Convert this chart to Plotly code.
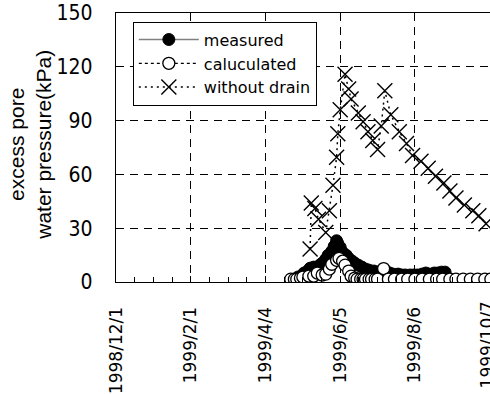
import plotly.graph_objects as go

# ---- data ----
measured_dates = ["1999-05-01", "1999-05-04", "1999-05-06", "1999-05-09", "1999-05-11", "1999-05-14",
                  "1999-05-16", "1999-05-19", "1999-05-21", "1999-05-24", "1999-05-26", "1999-05-29",
                  "1999-05-31", "1999-06-02", "1999-06-03", "1999-06-05", "1999-06-07", "1999-06-10",
                  "1999-06-12", "1999-06-15", "1999-06-17", "1999-06-20", "1999-06-23", "1999-06-26",
                  "1999-06-29", "1999-07-03", "1999-07-06", "1999-07-09", "1999-07-13", "1999-07-16",
                  "1999-07-19", "1999-07-23", "1999-07-26", "1999-07-29", "1999-08-02", "1999-08-05",
                  "1999-08-08", "1999-08-12", "1999-08-15", "1999-08-18", "1999-08-22", "1999-08-25",
                  "1999-08-28", "1999-08-31"]
measured_kpa = [2.8, 3.3, 5.0, 6.1, 7.7, 8.3,
                7.2, 9.4, 10.5, 12.7, 14.9, 17.1,
                19.9, 23.0, 21.5, 19.3, 16.5, 14.9,
                13.2, 11.6, 10.5, 9.4, 8.3, 7.2,
                6.6, 6.1, 5.5, 6.1, 6.1, 5.0,
                4.4, 4.4, 3.9, 3.9, 3.9, 3.9,
                3.9, 4.4, 5.0, 4.4, 5.0, 5.0,
                5.5, 5.5]

calc_dates = ["1999-04-25", "1999-04-28", "1999-04-30", "1999-05-03", "1999-05-05", "1999-05-10",
              "1999-05-14", "1999-05-17", "1999-05-21", "1999-05-24", "1999-05-27", "1999-05-29",
              "1999-06-02", "1999-06-04", "1999-06-07", "1999-06-09", "1999-06-12", "1999-06-14",
              "1999-06-17", "1999-06-19", "1999-06-22", "1999-06-24", "1999-06-26", "1999-06-29",
              "1999-07-01", "1999-07-04", "1999-07-06", "1999-07-11", "1999-07-15", "1999-07-20",
              "1999-07-26", "1999-07-31", "1999-08-06", "1999-08-12", "1999-08-18", "1999-08-24",
              "1999-08-29", "1999-09-04", "1999-09-09", "1999-09-15", "1999-09-21", "1999-09-27",
              "1999-10-03", "1999-10-08"]
calc_kpa = [1.6, 1.6, 1.6, 2.2, 2.8, 3.3,
            3.3, 5.0, 3.9, 4.4, 7.2, 9.9,
            12.1, 13.2, 11.6, 9.4, 6.1, 3.3,
            2.2, 1.6, 1.6, 1.6, 1.6, 1.6,
            1.6, 1.6, 1.6, 7.5, 1.6, 1.6,
            1.6, 1.6, 1.6, 1.6, 1.6, 1.6,
            1.6, 1.6, 1.6, 1.6, 1.6, 1.6,
            1.6, 1.6]

nodrain_dates = ["1999-05-11", "1999-05-12", "1999-05-15", "1999-05-18", "1999-05-24", "1999-05-27",
                 "1999-05-30", "1999-06-02", "1999-06-03", "1999-06-05", "1999-06-09", "1999-06-12",
                 "1999-06-14", "1999-06-20", "1999-06-24", "1999-06-28", "1999-07-02", "1999-07-06",
                 "1999-07-09", "1999-07-12", "1999-07-17", "1999-07-24", "1999-07-30", "1999-08-04",
                 "1999-08-11", "1999-08-17", "1999-08-23", "1999-08-30", "1999-09-04", "1999-09-09",
                 "1999-09-16", "1999-09-23", "1999-09-28", "1999-10-04"]
nodrain_kpa = [18.4, 44.0, 41.0, 35.0, 27.6, 39.7,
               54.0, 69.5, 82.7, 96.0, 115.8, 107.6,
               102.0, 94.3, 89.4, 83.8, 78.9, 73.9,
               87.0, 106.6, 93.2, 83.8, 77.2, 70.6,
               67.3, 63.4, 59.0, 55.2, 50.7, 46.9,
               43.0, 39.7, 37.0, 32.5]

tick_dates = ["1998-12-01", "1999-02-01", "1999-04-04", "1999-06-05", "1999-08-06", "1999-10-07"]
tick_text = ["1998/12/1", "1999/2/1", "1999/4/4", "1999/6/5", "1999/8/6", "1999/10/7"]
y_ticks = [0, 30, 60, 90, 120, 150]

legend_names = ["measured", "caluculated", "without drain"]
y_title = "excess pore<br>water pressure(kPa)"

tick_font = dict(family="DejaVu Sans", size=17, color="black")

# ---- figure ----
fig = go.Figure()

fig.add_trace(go.Scatter(
    x=measured_dates, y=measured_kpa, name=legend_names[0], mode="lines+markers",
    line=dict(color="#808080", width=1.5),
    marker=dict(symbol="circle", size=12, color="black", line=dict(color="black", width=1)),
    cliponaxis=True))

fig.add_trace(go.Scatter(
    x=calc_dates, y=calc_kpa, name=legend_names[1], mode="lines+markers",
    line=dict(color="black", width=1.3, dash="3px,3px"),
    marker=dict(symbol="circle", size=12, color="white", line=dict(color="black", width=1.3)),
    cliponaxis=True))

fig.add_trace(go.Scatter(
    x=nodrain_dates, y=nodrain_kpa, name=legend_names[2], mode="lines+markers",
    line=dict(color="black", width=1.5, dash="2px,4px"),
    marker=dict(symbol="x-thin-open", size=15, color="black", line=dict(color="black", width=1.4)),
    cliponaxis=True))

grid_dash = "8px,6px"

# the last tick sits at the right edge and is drawn as an annotation so it is not dropped
visible_ticks = tick_dates[:-1]
visible_text = tick_text[:-1]

fig.update_layout(
    width=490, height=394,
    margin=dict(l=116, r=0, t=13, b=109),
    paper_bgcolor="white", plot_bgcolor="white",
    showlegend=True,
    legend=dict(
        x=0.045, y=0.968, xanchor="left", yanchor="top",
        bgcolor="white", bordercolor="black", borderwidth=1,
        font=dict(family="DejaVu Sans", size=16, color="black"),
        itemwidth=60, tracegroupgap=0,
    ),
    xaxis=dict(
        type="date",
        range=["1998-12-01", "1999-10-07 06:00"],
        tickmode="array", tickvals=visible_ticks, ticktext=visible_text,
        tickangle=-90,
        tickfont=tick_font,
        ticks="inside", ticklen=6, tickcolor="black", tickwidth=1,
        ticklabelstandoff=17,
        showline=True, linecolor="black", linewidth=1.3, mirror=True,
        showgrid=True, gridcolor="black", gridwidth=1, griddash=grid_dash,
        minor=dict(ticks="inside", ticklen=5, tickcolor="black", tickwidth=1,
                   dtick=15.5 * 86400000, tick0="1998-12-01", showgrid=False),
        zeroline=False,
    ),
    yaxis=dict(
        range=[0, 150],
        tickmode="array", tickvals=y_ticks,
        tickfont=dict(family="Liberation Sans Narrow, DejaVu Sans Condensed, sans-serif", size=21, color="black"),
        ticks="inside", ticklen=6, tickcolor="black", tickwidth=1,
        ticklabelstandoff=18,
        showline=True, linecolor="black", linewidth=1.3, mirror=False,
        showgrid=True, gridcolor="black", gridwidth=1, griddash=grid_dash,
        zeroline=False,
    ),
    annotations=[
        dict(text=y_title, xref="paper", yref="paper", x=-0.23, y=0.51,
             xanchor="center", yanchor="middle", textangle=-90, showarrow=False,
             font=dict(family="Liberation Sans, Arial, sans-serif", size=21, color="black")),
        dict(text=tick_text[-1], xref="x", yref="paper", x=tick_dates[-1], y=-0.064,
             xanchor="center", yanchor="top", textangle=-90, showarrow=False, xshift=-3,
             font=tick_font),
    ],
)

fig.write_html("out.html")
